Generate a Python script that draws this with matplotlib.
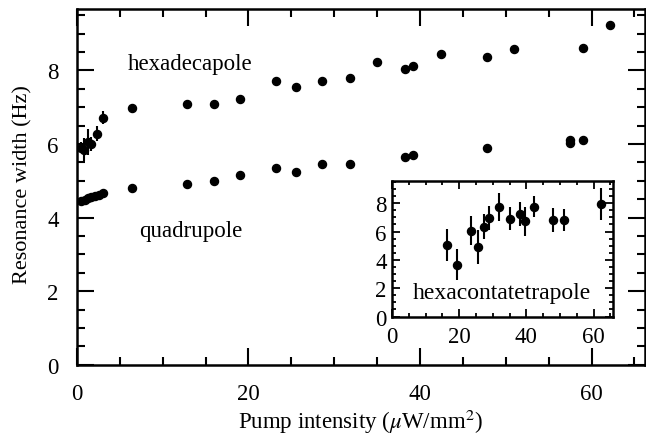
import numpy as np
import matplotlib.pyplot as plt
from matplotlib.ticker import MultipleLocator

plt.rcParams['font.family'] = ['Liberation Serif', 'DejaVu Serif']
plt.rcParams['mathtext.fontset'] = 'stix'

# hexadecapole
x_hex = [0.5, 0.8, 1.3, 1.7, 2.4, 3.1, 6.4, 12.8, 16.0, 19.0, 23.2, 25.5, 28.6,
         31.9, 35.0, 38.3, 39.2, 42.5, 47.8, 51.0, 59.0, 62.2]
y_hex = [5.9, 5.85, 6.05, 6.0, 6.28, 6.72, 6.97, 7.08, 7.08, 7.22, 7.72, 7.55, 7.72,
         7.79, 8.22, 8.03, 8.12, 8.44, 8.37, 8.59, 8.61, 9.22]
e_hex = [0.15, 0.3, 0.35, 0.2, 0.2, 0.18, 0.1, 0.08, 0.08, 0.08, 0.08, 0.08, 0.08,
         0.08, 0.08, 0.08, 0.08, 0.08, 0.08, 0.08, 0.08, 0.08]

# quadrupole
x_quad = [0.5, 0.9, 1.3, 1.7, 2.1, 2.6, 3.1, 6.4, 12.8, 16.0, 19.0, 23.2, 25.5,
          28.6, 31.9, 38.3, 39.2, 47.8, 57.5, 57.5, 59.0]
y_quad = [4.45, 4.48, 4.52, 4.56, 4.59, 4.62, 4.66, 4.80, 4.91, 4.99, 5.15, 5.34, 5.25,
          5.45, 5.47, 5.65, 5.70, 5.88, 6.02, 6.10, 6.12]
e_quad = [0.05] * len(x_quad)

# hexacontatetrapole (inset)
x_hct = [16.3, 19.3, 23.4, 25.7, 27.3, 28.8, 31.9, 35.2, 38.2, 39.5, 42.4, 47.8, 51.2, 62.2]
y_hct = [5.06, 3.67, 6.07, 4.94, 6.35, 6.94, 7.72, 6.9, 7.25, 6.71, 7.76, 6.82, 6.82, 7.95]
e_hct = [1.15, 1.1, 1.0, 1.2, 0.9, 0.85, 1.0, 0.8, 0.85, 1.0, 0.75, 0.85, 0.8, 1.1]

fig = plt.figure(figsize=(6.46, 4.35), dpi=100)
ax = fig.add_axes([0.119, 0.159, 0.879, 0.819])

ax.errorbar(x_hex, y_hex, yerr=e_hex, fmt='o', color='black', ms=5.8, elinewidth=1.5, capsize=0)
ax.errorbar(x_quad, y_quad, yerr=e_quad, fmt='o', color='black', ms=5.8, elinewidth=1.5, capsize=0)

ax.set_xlim(0, 66.2)
ax.set_ylim(0, 9.68)
ax.xaxis.set_major_locator(MultipleLocator(20))
ax.xaxis.set_minor_locator(MultipleLocator(5))
ax.yaxis.set_major_locator(MultipleLocator(2))
ax.yaxis.set_minor_locator(MultipleLocator(0.5))
ax.tick_params(which='both', direction='in', top=True, right=True, width=1.5, labelsize=16.5)
ax.tick_params(axis='x', pad=13)
ax.tick_params(axis='y', pad=13)
ax.tick_params(which='major', length=12)
ax.tick_params(which='minor', length=6)
for s in ax.spines.values():
    s.set_linewidth(1.8)

ax.set_xlabel(r'Pump intensity ($\mu$W/mm$^2$)', fontsize=16.5)
ax.set_ylabel('Resonance width (Hz)', fontsize=16)
ax.xaxis.set_label_coords(0.5, -0.118)
ax.yaxis.set_label_coords(-0.078, 0.51)

ax.text(13.2, 8.2, 'hexadecapole', fontsize=16.5, ha='center', va='center')
ax.text(13.3, 3.64, 'quadrupole', fontsize=16.5, ha='center', va='center')

ins = fig.add_axes([0.607, 0.270, 0.342, 0.312])
ins.errorbar(x_hct, y_hct, yerr=e_hct, fmt='o', color='black', ms=5.8, elinewidth=1.5, capsize=0)
ins.set_xlim(0, 65.8)
ins.set_ylim(0, 9.58)
ins.xaxis.set_major_locator(MultipleLocator(20))
ins.xaxis.set_minor_locator(MultipleLocator(5))
ins.yaxis.set_major_locator(MultipleLocator(2))
ins.yaxis.set_minor_locator(MultipleLocator(0.5))
ins.tick_params(which='both', direction='in', top=True, right=True, width=1.3, labelsize=16.5)
ins.tick_params(axis='x', pad=7)
ins.tick_params(axis='y', pad=4)
ins.tick_params(which='major', length=6)
ins.tick_params(which='minor', length=3)
for s in ins.spines.values():
    s.set_linewidth(1.8)
ins.text(32.7, 1.72, 'hexacontatetrapole', fontsize=17, ha='center', va='center')

fig.savefig('out.png', dpi=100)
